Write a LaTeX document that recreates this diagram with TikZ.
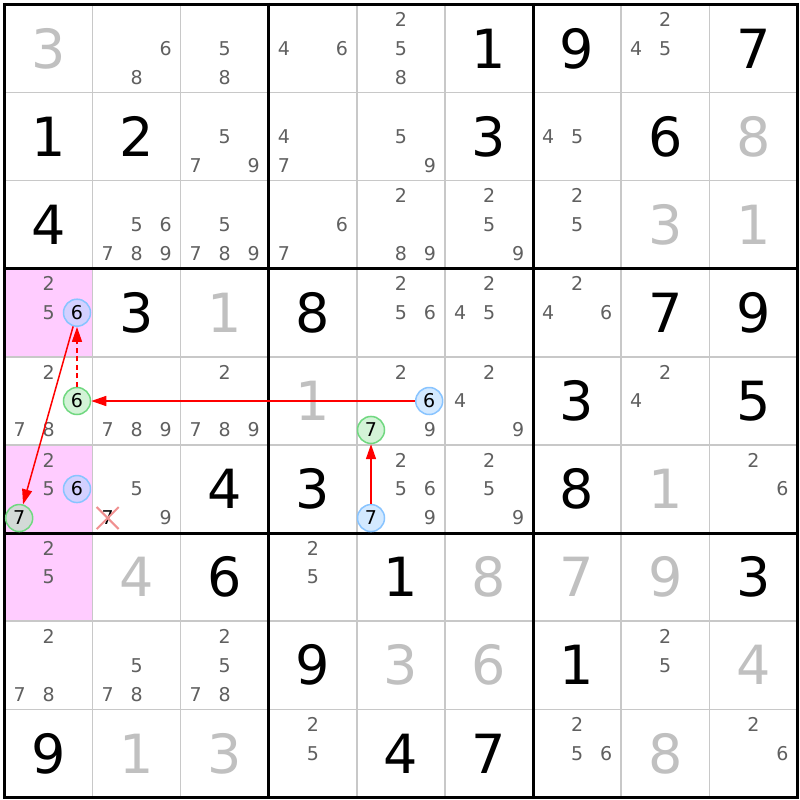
\documentclass[tikz,border=0pt]{standalone}
\usepackage{fontspec}
\setmainfont{DejaVu Sans}
\usetikzlibrary{arrows.meta}
\definecolor{candgray}{HTML}{606060}
\definecolor{solvgray}{HTML}{C0C0C0}
\definecolor{gridgray}{HTML}{C8C8C8}
\definecolor{pinkcell}{HTML}{FFCCFF}
\definecolor{bluefill}{HTML}{A8D4FF}
\definecolor{bluering}{HTML}{88C4FF}
\definecolor{greenfill}{HTML}{A8E8B0}
\definecolor{greenring}{HTML}{70D880}
\definecolor{crossred}{HTML}{F09090}
\definecolor{linkred}{HTML}{FF0000}
\tikzset{
  given/.style={font=\fontsize{54}{54}\selectfont, text=black, inner sep=0pt},
  solved/.style={given, text=solvgray},
  cand/.style={font=\fontsize{19}{19}\selectfont, text=candgray, inner sep=0pt},
  ringbase/.style={circle, line width=1.5pt, fill opacity=0.5, text opacity=1,
    minimum size=27pt, inner sep=0pt, font=\fontsize{19}{19}\selectfont, text=black},
  bluecirc/.style={ringbase, draw=bluering, fill=bluefill},
  greencirc/.style={ringbase, draw=greenring, fill=greenfill},
  crossed/.style={font=\fontsize{19}{19}\selectfont, text=black, inner sep=0pt},
  link/.style={draw=linkred, line width=1.5pt, -{Triangle[length=15pt,width=10pt]}},
  dashlink/.style={link, line width=1.6pt, dash pattern=on 5pt off 3.5pt},
  thin grid/.style={draw=gridgray, line width=1.5pt},
  thick grid/.style={draw=black, line width=3pt},
}
\begin{document}
\begin{tikzpicture}[x=1pt,y=-1pt]
\path[use as bounding box, fill=white] (0,0) rectangle (800,800);
\def\cs{88.1}
\def\ox{4.5}
% highlighted cells
\foreach \r/\c in {3/0,5/0,6/0}
  \fill[pinkcell] ({\ox+\c*\cs},{\ox+\r*\cs}) rectangle ({\ox+(\c+1)*\cs},{\ox+(\r+1)*\cs});
% thin grid
\foreach \i in {1,2,4,5,7,8} {
  \draw[thin grid] ({\ox+\i*\cs},\ox) -- ({\ox+\i*\cs},{\ox+9*\cs});
  \draw[thin grid] (\ox,{\ox+\i*\cs}) -- ({\ox+9*\cs},{\ox+\i*\cs});
}
% thick grid
\foreach \i in {0,3,6,9} {
  \draw[thick grid] ({\ox+\i*\cs},{\ox-1.5}) -- ({\ox+\i*\cs},{\ox+9*\cs+1.5});
  \draw[thick grid] ({\ox-1.5},{\ox+\i*\cs}) -- ({\ox+9*\cs+1.5},{\ox+\i*\cs});
}
% givens
\foreach \r/\c/\d in {0/5/1,0/6/9,0/8/7,1/0/1,1/1/2,1/5/3,1/7/6,2/0/4,
  3/1/3,3/3/8,3/7/7,3/8/9,4/6/3,4/8/5,5/2/4,5/3/3,5/6/8,6/2/6,6/4/1,6/8/3,
  7/3/9,7/6/1,8/0/9,8/4/4,8/5/7}
  \node[given] (g-\r-\c) at ({\ox+(\c+0.5)*\cs},{\ox+(\r+0.5)*\cs}) {\d};
% solved
\foreach \r/\c/\d in {0/0/3,1/8/8,2/7/3,2/8/1,3/2/1,4/3/1,5/7/1,6/1/4,6/5/8,
  6/6/7,6/7/9,7/4/3,7/5/6,7/8/4,8/1/1,8/2/3,8/7/8}
  \node[solved] (s-\r-\c) at ({\ox+(\c+0.5)*\cs},{\ox+(\r+0.5)*\cs}) {\d};
% candidates
\foreach \r/\c/\d in {
  0/1/6,0/1/8, 0/2/5,0/2/8, 0/3/4,0/3/6, 0/4/2,0/4/5,0/4/8, 0/7/2,0/7/4,0/7/5,
  1/2/5,1/2/7,1/2/9, 1/3/4,1/3/7, 1/4/5,1/4/9, 1/6/4,1/6/5,
  2/1/5,2/1/6,2/1/7,2/1/8,2/1/9, 2/2/5,2/2/7,2/2/8,2/2/9, 2/3/6,2/3/7,
  2/4/2,2/4/8,2/4/9, 2/5/2,2/5/5,2/5/9, 2/6/2,2/6/5,
  3/0/2,3/0/5, 3/4/2,3/4/5,3/4/6, 3/5/2,3/5/4,3/5/5, 3/6/2,3/6/4,3/6/6,
  4/0/2,4/0/7,4/0/8, 4/1/7,4/1/8,4/1/9, 4/2/2,4/2/7,4/2/8,4/2/9,
  4/4/2,4/4/9, 4/5/2,4/5/4,4/5/9, 4/7/2,4/7/4,
  5/0/2,5/0/5, 5/1/5,5/1/9, 5/4/2,5/4/5,5/4/6,5/4/9, 5/5/2,5/5/5,5/5/9, 5/8/2,5/8/6,
  6/0/2,6/0/5, 6/3/2,6/3/5,
  7/0/2,7/0/7,7/0/8, 7/1/5,7/1/7,7/1/8, 7/2/2,7/2/5,7/2/7,7/2/8, 7/7/2,7/7/5,
  8/3/2,8/3/5, 8/6/2,8/6/5,8/6/6, 8/8/2,8/8/6} {
  \pgfmathsetmacro\px{\ox+(\c+0.5)*\cs+(mod(\d-1,3)-1)*29}
  \pgfmathsetmacro\py{\ox+(\r+0.5)*\cs+(floor((\d-1)/3)-1)*29}
  \node[cand] (c-\r-\c-\d) at (\px,\py) {\d};
}
% crossed-out candidate
\node[crossed] (x51) at (107.65,518.05) {7};
\draw[crossred, line width=2pt] ([shift={(-11,-11)}]x51.center) -- ([shift={(11,11)}]x51.center);
\draw[crossred, line width=2pt] ([shift={(-11,11)}]x51.center) -- ([shift={(11,-11)}]x51.center);
% marked candidates
\node[bluecirc]  (b30) at (77.0,312.7) {6};
\node[greencirc] (e40) at (77.0,401.0) {6};
\node[bluecirc]  (b44) at (429.2,401.0) {6};
\node[greencirc] (e44) at (371.0,429.95) {7};
\node[bluecirc]  (b50) at (77.0,489.05) {6};
\node[greencirc] (e50) at (19.2,518.05) {7};
\node[bluecirc]  (b54) at (371.0,518.05) {7};
% links
\draw[link] (b44) -- (e40);
\draw[link] (b54) -- (e44);
\draw[dashlink] (e40) -- (b30);
\draw[link] (b30) -- (e50);
\end{tikzpicture}
\end{document}
